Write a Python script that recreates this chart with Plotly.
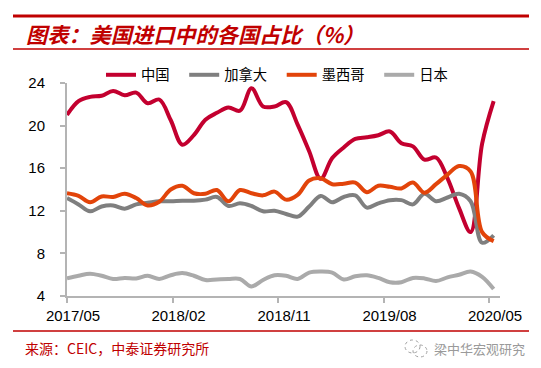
import plotly.graph_objects as go

# ---- data ----
tick_labels = ["2017/05", "2018/02", "2018/11", "2019/08", "2020/05"]
n_months = 38
months = list(range(n_months))

china = [21.0, 22.3, 22.7, 22.8, 23.25, 22.85, 23.1, 22.1, 22.45, 20.5,
         18.2, 19.1, 20.55, 21.2, 21.7, 21.4, 23.5, 21.8, 21.8, 22.2,
         20.1, 17.6, 15.0, 16.95, 17.95, 18.75, 18.9, 19.1, 19.45, 18.35,
         18.05, 16.8, 17.0, 15.05, 12.25, 10.0, 18.3, 22.3]
canada = [13.2, 12.6, 11.95, 12.4, 12.5, 12.2, 12.6, 12.75, 12.9, 12.9,
          12.95, 12.95, 13.05, 13.3, 12.45, 12.7, 12.45, 11.95, 12.0, 11.7,
          11.45, 12.4, 13.4, 12.8, 13.3, 13.45, 12.3, 12.7, 13.0, 13.0,
          12.6, 13.6, 12.9, 13.25, 13.6, 12.9, 9.0, 9.7]
mexico = [13.65, 13.4, 12.8, 13.35, 13.3, 13.6, 13.2, 12.5, 12.85, 14.0,
          14.35, 13.65, 13.6, 13.95, 12.9, 13.95, 13.65, 13.45, 13.8, 13.05,
          13.5, 14.85, 15.05, 14.5, 14.55, 14.65, 13.75, 14.35, 14.25, 14.1,
          14.65, 13.7, 14.5, 15.4, 16.2, 15.7, 10.0, 9.15]
japan = [5.65, 5.9, 6.1, 5.9, 5.6, 5.7, 5.65, 5.9, 5.6, 5.95,
         6.15, 5.9, 5.5, 5.55, 5.6, 5.6, 4.9, 5.5, 5.95, 5.9,
         5.6, 6.2, 6.3, 6.2, 5.55, 5.85, 5.95, 5.7, 5.3, 5.3,
         5.7, 5.65, 5.4, 5.75, 6.0, 6.3, 5.8, 4.65]

series = [
    ("中国", china, "#C3002F"),
    ("加拿大", canada, "#7F7F7F"),
    ("墨西哥", mexico, "#E2440A"),
    ("日本", japan, "#AAAAAA"),
]

# ---- layout geometry (pixels) ----
W, H = 541, 368
L, R, T, B = 67, 500, 83, 296
pw, ph = R - L, B - T


def px(x):
    return (x - L) / pw


def py(y):
    return (B - y) / ph


fig = go.Figure()
nbsp = "\u00a0"
for name, vals, color in series:
    fig.add_trace(go.Scatter(
        x=months, y=vals, mode="lines", name=name + nbsp * 3,
        line=dict(color=color, width=4, shape="spline", smoothing=1.0),
        hoverinfo="skip",
    ))

tick_pos = [i * 9.15 for i in range(len(tick_labels))]

fig.update_layout(
    width=W, height=H, autosize=False,
    margin=dict(l=L, r=W - R, t=T, b=H - B, pad=0),
    plot_bgcolor="white", paper_bgcolor="white",
    font=dict(family="Liberation Sans, Arial", color="black"),
    showlegend=True,
    legend=dict(
        orientation="h", x=px(101), xanchor="left", y=py(75), yanchor="middle",
        font=dict(family="Noto Sans CJK SC", size=14.3, color="black"),
        bgcolor="rgba(0,0,0,0)", borderwidth=0, tracegroupgap=0,
    ),
    xaxis=dict(
        range=[0, 37.55], showgrid=False, zeroline=False,
        showline=True, linecolor="#B4B4B4", linewidth=2,
        ticks="outside", ticklen=5, tickwidth=1.5, tickcolor="#B4B4B4",
        tickvals=tick_pos, ticktext=tick_labels, ticklabelshift=6,
        tickfont=dict(family="Liberation Sans, Arial", size=15, color="black"),
    ),
    yaxis=dict(
        range=[4, 24], showgrid=False, zeroline=False,
        showline=True, linecolor="#B4B4B4", linewidth=2,
        ticks="outside", ticklen=5, tickwidth=1.5, tickcolor="#B4B4B4",
        tickvals=[4, 8, 12, 16, 20, 24], ticklabelstandoff=12,
        tickfont=dict(family="Liberation Sans, Arial", size=15, color="black"),
    ),
)

red = "#C00000"
# header / footer rules
fig.add_shape(type="line", xref="paper", yref="paper", x0=px(13), x1=px(529),
              y0=py(16), y1=py(16), line=dict(color=red, width=3))
fig.add_shape(type="line", xref="paper", yref="paper", x0=px(13), x1=px(529),
              y0=py(49), y1=py(49), line=dict(color=red, width=1.5))
fig.add_shape(type="line", xref="paper", yref="paper", x0=px(13), x1=px(529),
              y0=py(331), y1=py(331), line=dict(color=red, width=1.5))

fig.add_annotation(
    text="图表：美国进口中的各国占比（%）", xref="paper", yref="paper",
    x=px(24), y=py(33.5), xanchor="left", yanchor="middle", showarrow=False,
    font=dict(family="Noto Sans CJK SC", size=21.2, color=red, weight="bold", style="italic"),
)
fig.add_annotation(
    text="来源：CEIC，中泰证券研究所", xref="paper", yref="paper",
    x=px(23), y=py(348), xanchor="left", yanchor="middle", showarrow=False,
    font=dict(family="Noto Sans CJK SC", size=14, color=red),
)
fig.add_annotation(
    text="梁中华宏观研究", xref="paper", yref="paper",
    x=px(527), y=py(348), xanchor="right", yanchor="middle", showarrow=False,
    font=dict(family="Noto Sans CJK SC", size=13, color="#9A9A9A"),
)
# small chat-bubble logo beside the watermark
fig.add_shape(type="circle", xref="paper", yref="paper",
              x0=px(405), x1=px(420), y0=py(340), y1=py(353),
              line=dict(color="#A0A0A0", width=1, dash="dot"))
fig.add_shape(type="circle", xref="paper", yref="paper",
              x0=px(413), x1=px(427), y0=py(345), y1=py(357),
              line=dict(color="#A0A0A0", width=1, dash="dot"))

fig.write_html(
    "out.html",
    config={"displayModeBar": False},
    post_script="document.body.style.margin='0';document.body.style.padding='0';",
)
